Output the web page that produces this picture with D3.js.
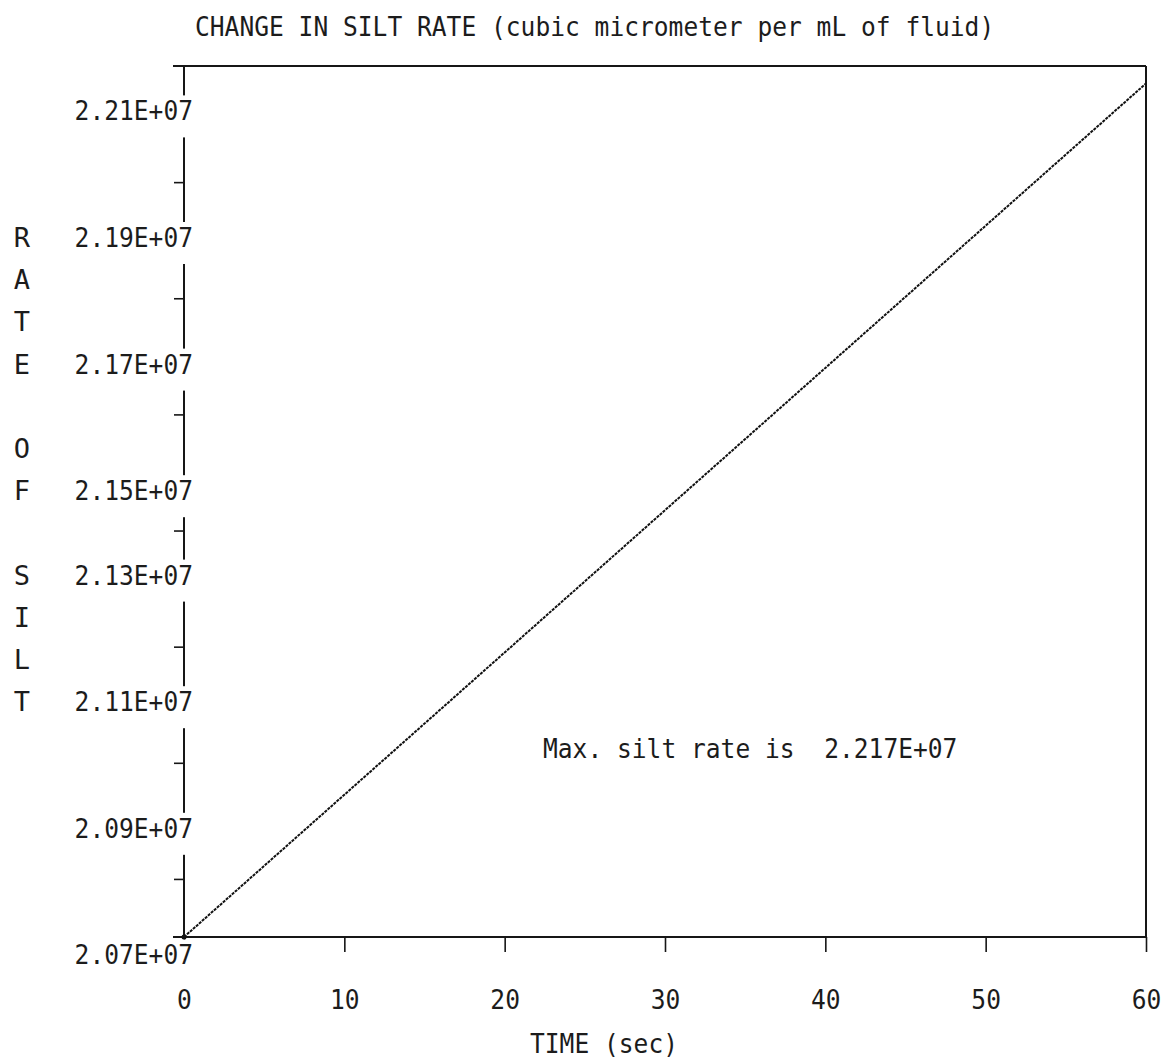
<!DOCTYPE html>
<html>
<head>
<meta charset="utf-8">
<script src="https://cdn.jsdelivr.net/npm/d3@7"></script>
<style>
  body { margin: 0; background: #fff; }
  text { font-family: "DejaVu Sans Mono", "Liberation Mono", monospace; fill: #1c1c1c; white-space: pre; }
</style>
</head>
<body>
<div class="chart"></div>
<script>
/* DATA */
var times = [0, 10, 20, 30, 40, 50, 60];
var rates = [2.070e7, 2.0945e7, 2.119e7, 2.1435e7, 2.168e7, 2.1925e7, 2.217e7];
var xTicks = [0, 10, 20, 30, 40, 50, 60];
var yTickMarks = [2.08e7, 2.10e7, 2.12e7, 2.14e7, 2.16e7, 2.18e7, 2.20e7];
var yLabelValues = [2.07e7, 2.09e7, 2.11e7, 2.13e7, 2.15e7, 2.17e7, 2.19e7, 2.21e7];
var yLabelText = ["2.07E+07", "2.09E+07", "2.11E+07", "2.13E+07", "2.15E+07", "2.17E+07", "2.19E+07", "2.21E+07"];
var sideLetters = ["R", "A", "T", "E", "", "O", "F", "", "S", "I", "L", "T"];
var title = "CHANGE IN SILT RATE (cubic micrometer per mL of fluid)";
var xTitle = "TIME (sec)";
var note = "Max. silt rate is  2.217E+07";

var W = 1168, H = 1062;
var pLeft = 184, pRight = 1146, pTop = 66, pBottom = 937;
var charW = 14.8, fs = 27;
var rowBase = 237, rowH = 42.2;   // printer text rows

var svg = d3.select(".chart").append("svg")
    .attr("width", W).attr("height", H);

var x = d3.scaleLinear().domain([0, 60]).range([pLeft, pRight]);
var y = d3.scaleLinear().domain([2.07e7, 2.22e7]).range([pBottom, pTop]);

function txt(g, s) {
  g.text(s).attr("font-size", fs)
    .attr("textLength", s.length * charW)
    .attr("lengthAdjust", "spacingAndGlyphs");
  return g;
}

/*FRAME*/
var frame = svg.append("g").attr("stroke", "#161616").attr("stroke-width", 2).attr("fill", "none");
frame.append("line").attr("x1", pLeft - 11).attr("x2", pRight).attr("y1", pTop).attr("y2", pTop);
frame.append("line").attr("x1", pLeft - 11).attr("x2", pRight).attr("y1", pBottom).attr("y2", pBottom);
frame.append("line").attr("x1", pRight).attr("x2", pRight).attr("y1", pTop).attr("y2", pBottom);
frame.append("line").attr("x1", pLeft).attr("x2", pLeft).attr("y1", pTop).attr("y2", pBottom);

/*X AXIS*/
var xAxis = svg.append("g")
    .attr("transform", "translate(0," + pBottom + ")")
    .call(d3.axisBottom(x).tickValues(xTicks).tickSize(15).tickSizeOuter(0).tickPadding(38)
      .tickFormat(d3.format("d")));
xAxis.select(".domain").remove();
xAxis.attr("font-family", null).attr("font-size", null);
xAxis.selectAll("line").attr("stroke", "#161616").attr("stroke-width", 1.6);
xAxis.selectAll("text").each(function(d) {
  txt(d3.select(this), String(d)).attr("fill", "#1c1c1c");
});

/*Y AXIS (tick marks only, labels sit on text rows)*/
var yAxis = svg.append("g")
    .attr("transform", "translate(" + pLeft + ",0)")
    .call(d3.axisLeft(y).tickValues(yTickMarks).tickSize(10).tickSizeOuter(0).tickFormat(""));
yAxis.select(".domain").remove();
yAxis.selectAll("line").attr("stroke", "#161616").attr("stroke-width", 1.6);

function snapRow(v) {
  return rowBase + Math.round((y(v) - rowBase) / rowH) * rowH;
}

var labels = svg.append("g");
yLabelValues.forEach(function(v, i) {
  var ry = snapRow(v);
  labels.append("rect")
    .attr("x", pLeft - 10).attr("width", 20)
    .attr("y", ry - 15).attr("height", 42)
    .attr("fill", "#fff");
  txt(labels.append("text"), yLabelText[i])
    .attr("x", 193).attr("y", ry + 10)
    .attr("text-anchor", "end");
});

/*RATE OF SILT down the side*/
sideLetters.forEach(function(c, i) {
  if (!c) return;
  svg.append("text")
    .attr("x", 22).attr("y", rowBase + i * rowH + 10)
    .attr("text-anchor", "middle")
    .attr("font-size", fs)
    .text(c);
});

/*DATA LINE*/
var line = d3.line()
    .x(function(d, i) { return x(times[i]); })
    .y(function(d) { return y(d); });

svg.append("path")
    .datum(rates)
    .attr("d", line)
    .attr("fill", "none")
    .attr("stroke", "#111")
    .attr("stroke-width", 2)
    .attr("stroke-dasharray", "3,1");

svg.append("circle").attr("cx", x(times[0])).attr("cy", y(rates[0])).attr("r", 2.5).attr("fill", "#111");

/*TEXTS*/
txt(svg.append("text"), title).attr("x", 195).attr("y", 36);
txt(svg.append("text"), xTitle).attr("x", 530).attr("y", 1053);
txt(svg.append("text"), note).attr("x", 543).attr("y", 758);
</script>
</body>
</html>
